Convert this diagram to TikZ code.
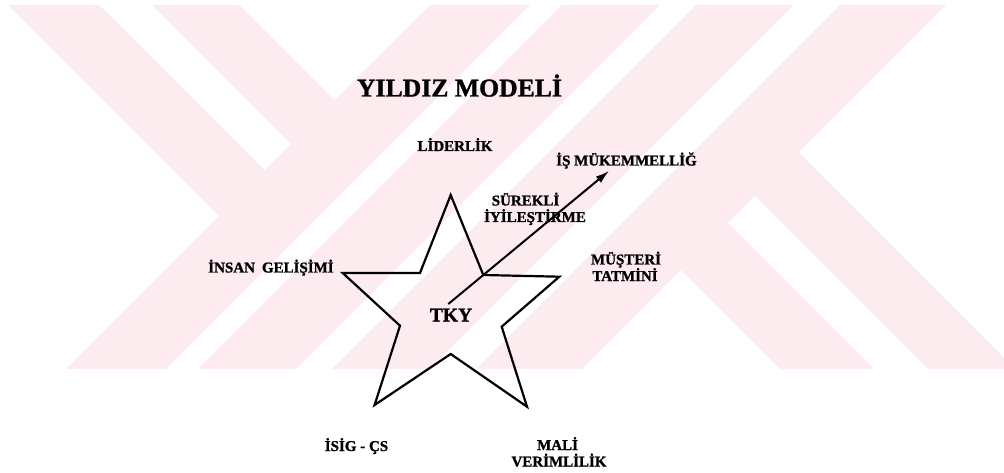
\documentclass[tikz,border=0pt]{standalone}
\usepackage{fontspec}
\setmainfont{Liberation Serif}[BoldFeatures={FakeBold=1.2}]
\usetikzlibrary{arrows.meta}
\definecolor{wm}{RGB}{252,236,239}
\begin{document}
\begin{tikzpicture}[x=1pt,y=-1pt,
  lbl/.style={font=\bfseries\fontsize{15}{15}\selectfont, anchor=base, inner sep=0pt},
  starline/.style={draw=black, line width=2.2pt, line join=miter},
  arr/.style={draw=black, line width=2pt, -{Latex[length=14pt,width=8pt]}}]
\useasboundingbox (0,0) rectangle (1004,473);
\fill[white] (0,0) rectangle (1004,473);
% watermark
\begin{scope}
\clip (0,6) rectangle (1004,368);
\fill[wm] (435,0) -- (535,0) -- (155,380) -- (55,380) -- cycle;
\fill[wm] (567,0) -- (665,0) -- (285,380) -- (187,380) -- cycle;
\fill[wm] (701,0) -- (798,0) -- (418,380) -- (321,380) -- cycle;
\fill[wm] (845,0) -- (951,0) -- (571,380) -- (465,380) -- cycle;
\fill[wm] (3,0) -- (94,0) -- (267,173) -- (221.5,218.5) -- cycle;
\fill[wm] (147,0) -- (234,0) -- (337,103) -- (293.5,146.5) -- cycle;
\fill[wm] (678.5,267.5) -- (725.5,220.5) -- (885,380) -- (791,380) -- cycle;
\fill[wm] (752.5,193.5) -- (796,150) -- (1026,380) -- (939,380) -- cycle;
\end{scope}
% star
\draw[starline] (450.7,195) -- (483.3,275) -- (559.3,276.7) -- (501.7,326.7)
  -- (527,406.7) -- (450.7,354) -- (374.6,405) -- (400,325.7)
  -- (342.7,273) -- (420,273) -- cycle;
% labels
\node[lbl, font=\bfseries\fontsize{25.7}{26}\selectfont] (title) at (459.5,96.5) {YILDIZ MODELİ};
\node[lbl] (lider) at (455,151) {LİDERLİK};
\node[lbl] (ismuk) at (626.5,165.5) {İŞ MÜKEMMELLİĞ};
\node[lbl] (surekli) at (525.5,205.5) {SÜREKLİ};
\node[lbl] (iyiles) at (535,222) {İYİLEŞTİRME};
\node[lbl] (insan) at (271,272.5) {İNSAN\hspace{7pt}GELİŞİMİ};
\node[lbl] (musteri) at (626,264.5) {MÜŞTERİ};
\node[lbl] (tatmini) at (625,281) {TATMİNİ};
\node[lbl, font=\bfseries\fontsize{19.5}{20}\selectfont] (tky) at (451,321.5) {TKY};
\node[lbl] (isig) at (356.5,451) {İSİG - ÇS};
\node[lbl] (mali) at (557.5,450) {MALİ};
\node[lbl] (verim) at (559,466.5) {VERİMLİLİK};
% arrow
\coordinate (astart) at (448.3,304);
\coordinate (aend) at (609.3,170.7);
\draw[arr] (astart) -- (aend);
\end{tikzpicture}
\end{document}
